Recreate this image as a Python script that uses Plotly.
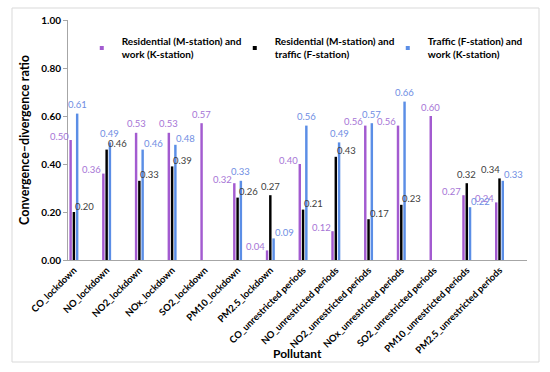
import plotly.graph_objects as go

categories = ["CO_lockdown", "NO_lockdown", "NO2_lockdown", "NOx_lockdown", "SO2_lockdown",
              "PM10_lockdown", "PM2.5_lockdown", "CO_unrestricted periods", "NO_unrestricted periods",
              "NO2_unrestricted periods", "NOx_unrestricted periods", "SO2_unrestricted periods",
              "PM10_unrestricted periods", "PM2.5_unrestricted periods"]

res_work = [0.50, 0.36, 0.53, 0.53, 0.57, 0.32, 0.04, 0.40, 0.12, 0.56, 0.56, 0.60, 0.27, 0.24]
res_traffic = [0.20, 0.46, 0.33, 0.39, None, 0.26, 0.27, 0.21, 0.43, 0.17, 0.23, None, 0.32, 0.34]
traffic_work = [0.61, 0.49, 0.46, 0.48, None, 0.33, 0.09, 0.56, 0.49, 0.57, 0.66, None, 0.22, 0.33]

series_names = ["Residential (M-station) and<br>work (K-station)",
                "Residential (M-station) and<br>traffic (F-station)",
                "Traffic (F-station) and<br>work (K-station)"]
series_values = [res_work, res_traffic, traffic_work]
bar_colors = ["#A35BD0", "#000000", "#5B8EE6"]
label_colors = ["#A675D6", "#404040", "#6F8EE3"]

FONT = "Lato"
fig = go.Figure()

for name, vals, col in zip(series_names, series_values, bar_colors):
    fig.add_trace(go.Bar(x=categories, y=vals, name=name, marker_color=col,
                         marker_line_width=0, showlegend=False))
# legend swatches
for name, col in zip(series_names, bar_colors):
    fig.add_trace(go.Scatter(x=[None], y=[None], mode="markers", name=name,
                             marker=dict(symbol="square", size=4, color=col)))

# data labels: tallest bar of a group gets a label above; others sit beside
slot_px = [-3.3, 0.0, 3.3]
side_style = [
    dict(xanchor="right", dx=0, dy=4),
    dict(xanchor="left", dx=-1, dy=6),
    dict(xanchor="left", dx=-1, dy=6),
]
n_series = len(series_values)
for si, vals in enumerate(series_values):
    for ci, (c, v) in enumerate(zip(categories, vals)):
        if v is None:
            continue
        group = [s[ci] for s in series_values if s[ci] is not None]
        if v == max(group):
            right_close = any(series_values[sj][ci] is not None and v - series_values[sj][ci] <= 0.02
                              for sj in range(si + 1, n_series))
            if right_close:
                st = dict(xanchor="right", dx=2, dy=9)
            else:
                st = dict(xanchor="center", dx=0, dy=9)
        else:
            st = side_style[si]
        fig.add_annotation(x=c, y=v, xref="x", yref="y", text=f"{v:.2f}", showarrow=False,
                           xanchor=st["xanchor"], yanchor="middle",
                           xshift=slot_px[si] + st["dx"], yshift=st["dy"],
                           font=dict(family=FONT, size=9.5, color=label_colors[si]))

L, R, T, B = 68, 23, 20, 112
W, H = 550, 372
pw, ph = W - L - R, H - T - B
fig.add_shape(type="rect", xref="paper", yref="paper",
              x0=(12 - L) / pw, x1=(539 - L) / pw,
              y0=(H - B - 362) / ph, y1=(H - B - 8) / ph,
              line=dict(color="#D9D9D9", width=1), layer="below")

# x-axis title
fig.add_annotation(text="Pollutant", xref="paper", yref="paper", x=0.5, y=(H - B - 353) / ph,
                   xanchor="center", yanchor="middle", showarrow=False,
                   font=dict(family=FONT, size=12, weight="bold", color="#000000"))

fig.update_layout(
    width=W, height=H,
    margin=dict(l=L, r=R, t=T, b=B, autoexpand=False),
    paper_bgcolor="white", plot_bgcolor="white",
    barmode="group", bargap=0.7, bargroupgap=0.25,
    font=dict(family=FONT, color="#000000"),
    legend=dict(orientation="h", x=0.03, y=0.965, xanchor="left", yanchor="top",
                font=dict(family=FONT, size=10, color="#000000", weight="bold"),
                itemwidth=30, entrywidth=108, entrywidthmode="pixels",
                bgcolor="rgba(0,0,0,0)"),
    xaxis=dict(type="category", range=[-0.18, 13.84], tickangle=-45,
               showline=True, linecolor="#A6A6A6", linewidth=1, ticks="",
               showgrid=False, zeroline=False,
               tickfont=dict(family=FONT, size=9.5, color="#000000", weight="bold")),
    yaxis=dict(range=[0, 1.0], dtick=0.2, tickformat=".2f",
               showline=True, linecolor="#A6A6A6", linewidth=1, ticks="outside",
               ticklen=4, tickcolor="#A6A6A6", showgrid=False, zeroline=False,
               tickfont=dict(family=FONT, size=10, color="#000000", weight="bold"),
               title=dict(text="Convergence–divergence ratio",
                          font=dict(family=FONT, size=12.5, weight="bold"), standoff=8)),
)

fig.write_html("out.html", config={"displayModeBar": False},
               post_script="document.body.style.margin='0';document.body.style.overflow='hidden';")
